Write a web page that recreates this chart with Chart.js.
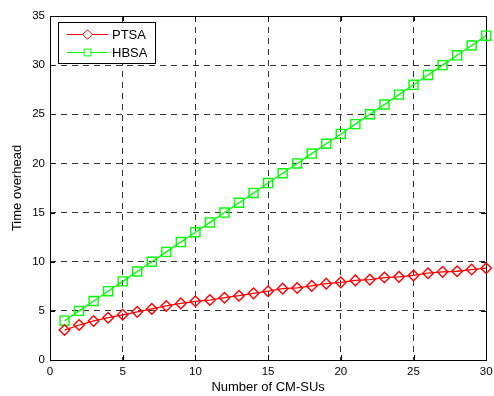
<!DOCTYPE html>
<html>
<head>
<meta charset="utf-8">
<script src="https://cdn.jsdelivr.net/npm/chart.js@4/dist/chart.umd.min.js"></script>
<style>
  html, body { margin: 0; padding: 0; background: #fff; }
  canvas { display: block; }
</style>
</head>
<body>
<canvas id="chart" width="494" height="396"></canvas>
<script>
// number of CM-SUs
const cmSus = [1, 2, 3, 4, 5, 6, 7, 8, 9, 10, 11, 12, 13, 14, 15,
               16, 17, 18, 19, 20, 21, 22, 23, 24, 25, 26, 27, 28, 29, 30];
const ptsa = [3.05, 3.56, 3.97, 4.3, 4.6, 4.9, 5.2, 5.5, 5.76, 5.97, 6.1, 6.34, 6.54, 6.78, 7.0,
              7.26, 7.33, 7.54, 7.77, 7.9, 8.1, 8.18, 8.39, 8.46, 8.6, 8.83, 8.97, 9.03, 9.2, 9.34];
const hbsa = [4, 5, 6, 7, 8, 9, 10, 11, 12, 13, 14, 15, 16, 17, 18,
              19, 20, 21, 22, 23, 24, 25, 26, 27, 28, 29, 30, 31, 32, 33];
const xTicks = [0, 5, 10, 15, 20, 25, 30];
const yTicks = [0, 5, 10, 15, 20, 25, 30, 35];

const FONT = "'Liberation Sans', Arial, sans-serif";

function pts(ys) {
  return cmSus.map((x, i) => ({ x: x, y: ys[i] }));
}

// box + inward ticks on all four sides (matlab style)
const boxPlugin = {
  id: 'box',
  beforeDatasetsDraw(chart) {
    const { ctx, chartArea: a, scales } = chart;
    ctx.save();
    ctx.strokeStyle = '#000';
    ctx.lineWidth = 1;
    ctx.beginPath();
    xTicks.forEach(v => {
      const px = Math.round(scales.x.getPixelForValue(v)) + 0.5;
      ctx.moveTo(px, a.bottom); ctx.lineTo(px, a.bottom - 5);
      ctx.moveTo(px, a.top); ctx.lineTo(px, a.top + 5);
    });
    yTicks.forEach(v => {
      const py = Math.round(scales.y.getPixelForValue(v)) + 0.5;
      ctx.moveTo(a.left, py); ctx.lineTo(a.left + 5, py);
      ctx.moveTo(a.right, py); ctx.lineTo(a.right - 5, py);
    });
    ctx.stroke();
    ctx.strokeRect(Math.round(a.left) + 0.5, Math.round(a.top) + 0.5,
                   Math.round(a.right - a.left), Math.round(a.bottom - a.top));
    ctx.restore();
  }
};

const legendPlugin = {
  id: 'boxLegend',
  afterDraw(chart) {
    const ctx = chart.ctx;
    const x0 = 58.5, y0 = 22.5, w = 97, h = 41;
    ctx.save();
    ctx.fillStyle = '#fff';
    ctx.fillRect(x0, y0, w, h);
    ctx.strokeStyle = '#000';
    ctx.lineWidth = 1;
    ctx.strokeRect(x0, y0, w, h);
    ctx.font = '13px ' + FONT;
    ctx.textBaseline = 'middle';
    chart.data.datasets.forEach((ds, i) => {
      const y = 34.5 + i * 18;
      ctx.strokeStyle = ds.borderColor;
      ctx.lineWidth = 1;
      ctx.beginPath();
      ctx.moveTo(67, y); ctx.lineTo(108, y);
      ctx.stroke();
      ctx.fillStyle = '#fff';
      Chart.helpers.drawPoint(ctx, {
        pointStyle: ds.pointStyle, radius: 4.8, borderWidth: 1, rotation: 0
      }, 87.5, y);
      ctx.fillStyle = '#000';
      ctx.fillText(ds.label, 112, y + 0.5);
    });
    ctx.restore();
  }
};

const ctx = document.getElementById('chart').getContext('2d');
new Chart(ctx, {
  type: 'line',
  data: {
    datasets: [{
      label: 'PTSA',
      data: pts(ptsa),
      borderColor: '#ff0000',
      backgroundColor: '#ff0000',
      borderWidth: 1.3,
      pointStyle: 'rectRot',
      pointRadius: 5.3,
      pointBorderWidth: 1.4,
      pointBackgroundColor: 'rgba(0,0,0,0)',
      pointBorderColor: '#ff0000',
      clip: false
    }, {
      label: 'HBSA',
      data: pts(hbsa),
      borderColor: '#00ff00',
      backgroundColor: '#00ff00',
      borderWidth: 1.3,
      pointStyle: 'rect',
      pointRadius: 6.4,
      pointBorderWidth: 1.4,
      pointBackgroundColor: 'rgba(0,0,0,0)',
      pointBorderColor: '#00ff00',
      clip: false
    }]
  },
  options: {
    responsive: false,
    animation: false,
    layout: { padding: { top: 16, right: 6, left: 0, bottom: 0 } },
    plugins: {
      legend: { display: false },
      tooltip: { enabled: false }
    },
    scales: {
      x: {
        type: 'linear',
        min: 0, max: 30,
        afterFit: s => { s.height = 36; s.paddingLeft = 0; s.paddingRight = 0; },
        afterBuildTicks: s => { s.ticks = xTicks.map(v => ({ value: v })); },
        grid: { color: '#333', lineWidth: 1, drawTicks: false },
        border: { display: false, dash: [6, 5] },
        ticks: { color: '#000', padding: 5, font: { family: FONT, size: 11.5 } },
        title: {
          display: true, text: 'Number of CM-SUs', color: '#000',
          font: { family: FONT, size: 13 }, padding: { top: 0, bottom: 1.2 }
        }
      },
      y: {
        type: 'linear',
        min: 0, max: 35,
        afterFit: s => { s.width = 50; s.paddingTop = 0; s.paddingBottom = 0; },
        afterBuildTicks: s => { s.ticks = yTicks.map(v => ({ value: v })); },
        grid: { color: '#333', lineWidth: 1, drawTicks: false },
        border: { display: false, dash: [6, 5] },
        ticks: { color: '#000', padding: 5, font: { family: FONT, size: 11.5 } },
        title: {
          display: true, text: 'Time overhead', color: '#000',
          font: { family: FONT, size: 13 }, padding: { top: 9.9, bottom: 0 }
        }
      }
    }
  },
  plugins: [boxPlugin, legendPlugin]
});
</script>
</body>
</html>
